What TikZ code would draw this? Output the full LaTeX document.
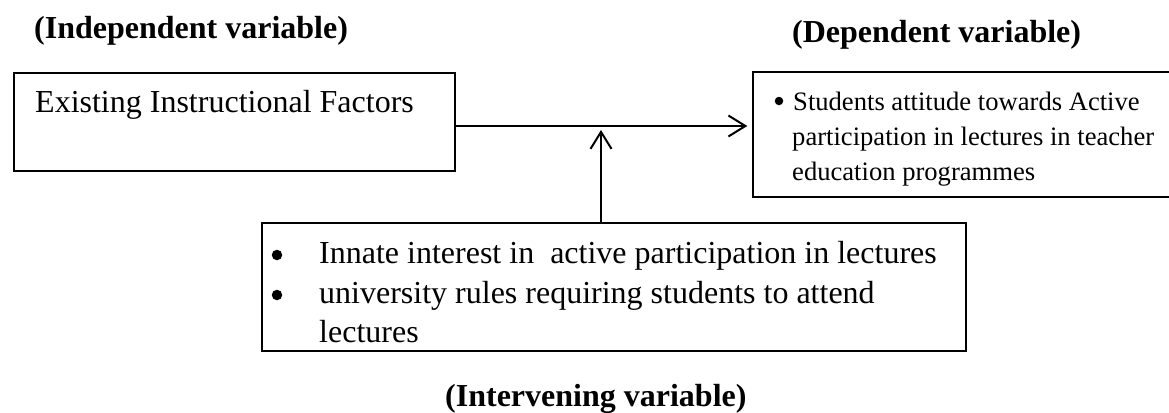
\documentclass[tikz,border=0pt]{standalone}
\usepackage{fontspec}
\setmainfont{Liberation Serif}
\usetikzlibrary{arrows.meta}
\begin{document}
\begin{tikzpicture}[x=1pt,y=-1pt,
  box/.style={draw,line width=1.4pt,inner sep=0pt,rectangle},
  ttl/.style={font=\fontsize{32}{38}\selectfont\bfseries,anchor=base west,inner sep=0pt},
  txt/.style={font=\fontsize{32}{38}\selectfont,anchor=base west,inner sep=0pt},
  stxt/.style={font=\fontsize{26.6}{35}\selectfont,anchor=base west,inner sep=0pt},
  dot/.style={circle,fill=black,inner sep=0pt,minimum size=#1},
  arr/.style={line width=2pt,-{Straight Barb[length=17pt,width=21pt,line width=2pt]}}]
\useasboundingbox (0,0) rectangle (1169,412);
% boxes
\node[box,minimum width=441pt,minimum height=98pt] (lbox) at (234.5,122) {};
\node[box,minimum width=427pt,minimum height=125pt] (rbox) at (966.5,134.5) {};
\node[box,minimum width=704pt,minimum height=128pt] (bbox) at (614,287) {};
% titles
\node[ttl] (tind) at (34,39) {(Independent variable)};
\node[ttl] (tdep) at (792,42) {(Dependent variable)};
\node[ttl] (tint) at (445,406) {(Intervening variable)};
% left box text
\node[txt] (ltext) at (35,112) {Existing Instructional Factors};
% right box text
\node[dot=8.5pt] (rb1) at (779,101) {};
\node[stxt] (r1) at (793,110) {Students attitude towards Active};
\node[stxt] (r2) at (792,145) {participation in lectures in teacher};
\node[stxt] (r3) at (792,180) {education programmes};
% bottom box text
\node[dot=10.5pt] (bb1) at (277,255) {};
\node[dot=10.5pt] (bb2) at (277,295) {};
\node[txt] (b1) at (319,263) {Innate interest in\ \ active participation in lectures};
\node[txt] (b2) at (319,303) {university rules requiring students to attend};
\node[txt] (b3) at (319,342) {lectures};
% connectors
\coordinate (j) at (601,126);
\coordinate (jt) at (601,130);
\coordinate (rt) at ([xshift=-5pt]rbox.west);
\draw[arr] (lbox.east |- j) -- (rt |- j);
\draw[arr] (bbox.north -| j) -- (jt);
\end{tikzpicture}
\end{document}
